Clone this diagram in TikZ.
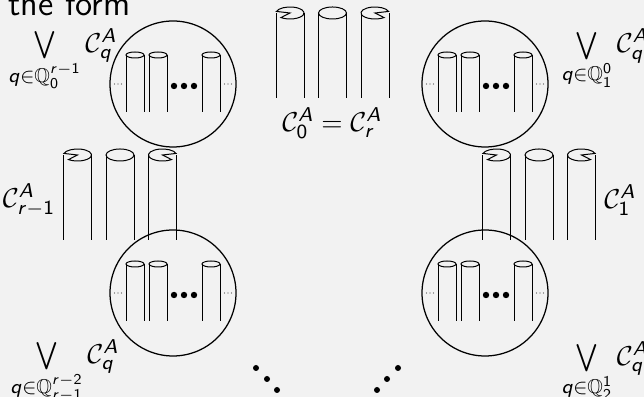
\documentclass[tikz,border=0pt]{standalone}
\usepackage{amsmath}
\usepackage{amssymb}
\usepackage{tikz}
\renewcommand{\familydefault}{\sfdefault}
% sans letters and digits in formulas
\DeclareSymbolFont{sfletters}{OT1}{cmss}{m}{sl}
\DeclareSymbolFont{sfdigits}{OT1}{cmss}{m}{n}
\DeclareMathSymbol{q}{\mathalpha}{sfletters}{`q}
\DeclareMathSymbol{r}{\mathalpha}{sfletters}{`r}
\DeclareMathSymbol{A}{\mathalpha}{sfletters}{`A}
\DeclareMathSymbol{0}{\mathord}{sfdigits}{`0}
\DeclareMathSymbol{1}{\mathord}{sfdigits}{`1}
\DeclareMathSymbol{2}{\mathord}{sfdigits}{`2}
\definecolor{slidebg}{RGB}{242,242,242}

\begin{document}
\begin{tikzpicture}[x=0.4pt,y=0.4pt,font=\fontsize{10.95pt}{13.6pt}\selectfont]
            \useasboundingbox (0,0) rectangle (644,397);
            \clip (0,0) rectangle (644,397);
            \fill[slidebg] (0,0) rectangle (644,397);

            \node[anchor=base west,inner sep=0,font=\fontsize{14pt}{17pt}\selectfont] (title) at (8,381) {the form};

            % three big cylinders, outer ones with a wedge cut from the top
            \foreach \gx/\gy in {332.5/384, 120/242, 539/242}{
                \draw (\gx,\gy) ellipse [x radius=14, y radius=6];
                \foreach \dx in {-42.5,0,42.5}{
                    \draw (\gx+\dx-14,\gy) -- ++(0,-85);
                    \draw (\gx+\dx+14,\gy) -- ++(0,-85);
                }
                \draw (\gx-42.5,\gy) ++(165:14 and 6) arc[start angle=165,end angle=-130,x radius=14,y radius=6] -- (\gx-42.5,\gy) -- cycle;
                \draw (\gx+42.5,\gy) ++(15:14 and 6) arc[start angle=15,end angle=310,x radius=14,y radius=6] -- (\gx+42.5,\gy) -- cycle;
            }

            % the four bubbles with small cylinders
            \foreach \cx/\cy in {173/313, 485/313, 173/104, 485/104}{
                \draw[line width=0.5pt] (\cx,\cy) circle (63);
                \foreach \dx in {-38,-15,38}{
                    \draw (\cx+\dx,\cy+29) ellipse [x radius=9, y radius=3];
                    \draw (\cx+\dx-9,\cy+29) -- (\cx+\dx-9,\cy-28);
                    \draw (\cx+\dx+9,\cy+29) -- (\cx+\dx+9,\cy-28);
                }
                \foreach \dx in {1,11,21}
                    \fill (\cx+\dx,\cy-2) circle (3.2);
                \foreach \dx in {-58.5,-55,-51.5,51.5,55,58.5}
                    \fill[black!70] (\cx+\dx,\cy) circle (0.6);
            }

            \node[anchor=west,inner sep=0] (joinNW) at (8,337) {$\bigvee\limits_{q\in\mathbb{Q}_0^{r-1}}\mathcal{C}_q^A$};
            \node[anchor=west,inner sep=0] (joinNE) at (561,337.5) {$\bigvee\limits_{q\in\mathbb{Q}_1^{0}}\mathcal{C}_q^A$};
            \node[anchor=west,inner sep=0] (joinSW) at (10,25) {$\bigvee\limits_{q\in\mathbb{Q}_{r-1}^{r-2}}\mathcal{C}_q^A$};
            \node[anchor=west,inner sep=0] (joinSE) at (561,25) {$\bigvee\limits_{q\in\mathbb{Q}_2^{1}}\mathcal{C}_q^A$};

            \node (ctop) at (332,274) {$\mathcal{C}_0^A=\mathcal{C}_r^A$};
            \node (cleft) at (29,197) {$\mathcal{C}_{r-1}^A$};
            \node (cright) at (620,197) {$\mathcal{C}_1^A$};

            % diagonal dots at the bottom
            \foreach \px/\py in {256/29, 267/18, 277/7, 398/29, 387/18, 377/7}
                \fill (\px,\py) circle (3);
        \end{tikzpicture}
\end{document}
